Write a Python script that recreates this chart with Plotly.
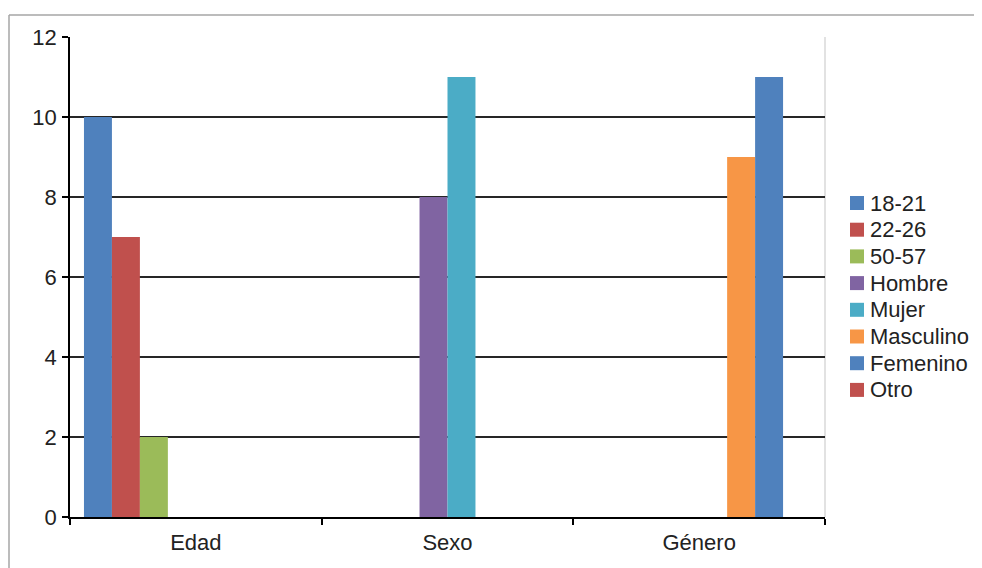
import plotly.graph_objects as go

categories = ["Edad", "Sexo", "Género"]
series_names = ["18-21", "22-26", "50-57", "Hombre", "Mujer", "Masculino", "Femenino", "Otro"]
s_18_21 = [10, None, None]
s_22_26 = [7, None, None]
s_50_57 = [2, None, None]
s_hombre = [None, 8, None]
s_mujer = [None, 11, None]
s_masculino = [None, None, 9]
s_femenino = [None, None, 11]
s_otro = [None, None, 0]
series_values = [s_18_21, s_22_26, s_50_57, s_hombre, s_mujer, s_masculino, s_femenino, s_otro]
colors = ["#4F81BD", "#C0504D", "#9BBB59", "#8064A2", "#4BACC6", "#F79646", "#4F81BD", "#C0504D"]
y_ticks = [0, 2, 4, 6, 8, 10, 12]

fig = go.Figure()
for name, vals, col in zip(series_names, series_values, colors):
    fig.add_trace(go.Bar(x=categories, y=vals, name=name, marker=dict(color=col, line=dict(width=0)),
                         showlegend=False))

OFF = 8  # page body margin
W, H = 982 - OFF, 568 - OFF
L, R, T, B = 70 - OFF, 825 - OFF, 37 - OFF, 517 - OFF
pw = R - L
ph = B - T
def px(x):
    return (x - OFF - L) / pw
def py(y):
    return (B - (y - OFF)) / ph

FS = 22
fig.update_layout(
    width=W, height=H,
    margin=dict(l=L, r=W - R, t=T, b=H - B, pad=0, autoexpand=False),
    barmode="group", bargap=0.111, bargroupgap=0,
    plot_bgcolor="white", paper_bgcolor="white",
    font=dict(family="Liberation Sans, Arial, sans-serif", size=FS, color="#222"),
    showlegend=False,
    xaxis=dict(showline=True, linecolor="#000", linewidth=1.5,
               ticks="outside", tickson="boundaries", ticklen=6, tickcolor="#000", tickwidth=1.5,
               showgrid=False, ticklabelstandoff=5),
    yaxis=dict(range=[0, 12], tickvals=y_ticks, showline=True, linecolor="#000", linewidth=1.5,
               ticks="outside", ticklen=6, tickcolor="#000", tickwidth=1.5,
               showgrid=True, gridcolor="#262626", gridwidth=1.5, zeroline=False,
               ticklabelstandoff=1),
)

# chart border
fig.add_shape(type="line", xref="paper", yref="paper", x0=px(9), x1=px(990), y0=py(15), y1=py(15),
              line=dict(color="#a6a6a6", width=1.5), layer="above")
fig.add_shape(type="line", xref="paper", yref="paper", x0=px(9), x1=px(9), y0=py(15), y1=py(580),
              line=dict(color="#a6a6a6", width=1.5), layer="above")
fig.add_shape(type="line", xref="paper", yref="paper", x0=1, x1=1, y0=0, y1=1,
              line=dict(color="#d9d9d9", width=1.5), layer="below")

# legend (drawn to match the original spacing)
leg_y0, leg_dy = 203, 26.7
for i, (name, col) in enumerate(zip(series_names, colors)):
    yc = leg_y0 + i * leg_dy
    fig.add_shape(type="rect", xref="paper", yref="paper",
                  x0=px(850), x1=px(864), y0=py(yc - 7), y1=py(yc + 7),
                  fillcolor=col, line=dict(width=0), layer="above")
    fig.add_annotation(xref="paper", yref="paper", x=px(868), y=py(yc), text=name,
                       showarrow=False, xanchor="left", yanchor="middle",
                       font=dict(size=FS, color="#222"))

fig.write_html("out.html")
